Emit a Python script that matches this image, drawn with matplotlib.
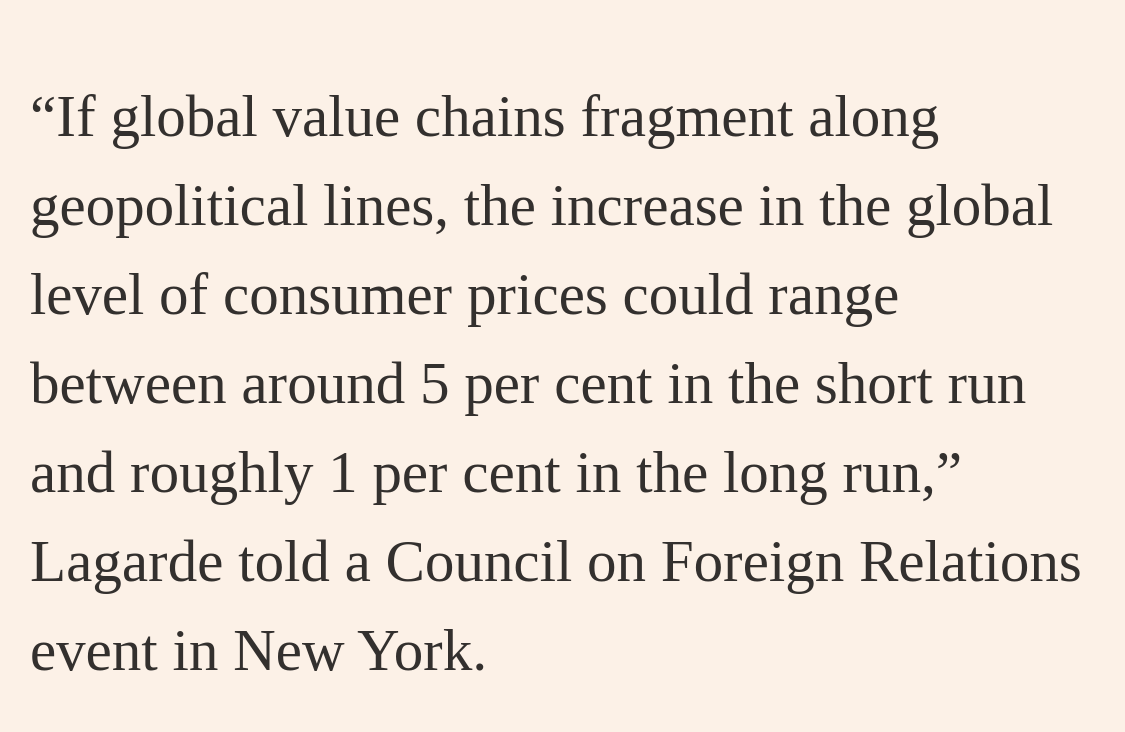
import matplotlib
matplotlib.use("Agg")
import matplotlib.pyplot as plt

# Lines of the quote, as broken in the screenshot
lines = [
    "\u201cIf global value chains fragment along",
    "geopolitical lines, the increase in the global",
    "level of consumer prices could range",
    "between around 5 per cent in the short run",
    "and roughly 1 per cent in the long run,\u201d",
    "Lagarde told a Council on Foreign Relations",
    "event in New York.",
]

bg = "#fcf1e7"
ink = "#33302e"
W, H = 1125, 732
left = 30           # px
first_base = 136    # px from top, baseline of line 1
step = 89           # px between baselines
target_w = 1022     # px width of line 2

fig = plt.figure(figsize=(W / 100, H / 100), dpi=100, facecolor=bg)
fam = ["Liberation Serif", "DejaVu Serif"]

texts = []
for i, s in enumerate(lines):
    y = 1 - (first_base + i * step) / H
    t = fig.text(left / W, y, s, fontsize=40, family=fam, color=ink,
                 ha="left", va="baseline")
    texts.append(t)

# fit font size so line 2 spans the same width as in the screenshot
r = fig.canvas.get_renderer()
w = texts[1].get_window_extent(r).width
size = 40 * target_w / w
for t in texts:
    t.set_fontsize(size)

fig.savefig("out.png", dpi=100, facecolor=bg)
